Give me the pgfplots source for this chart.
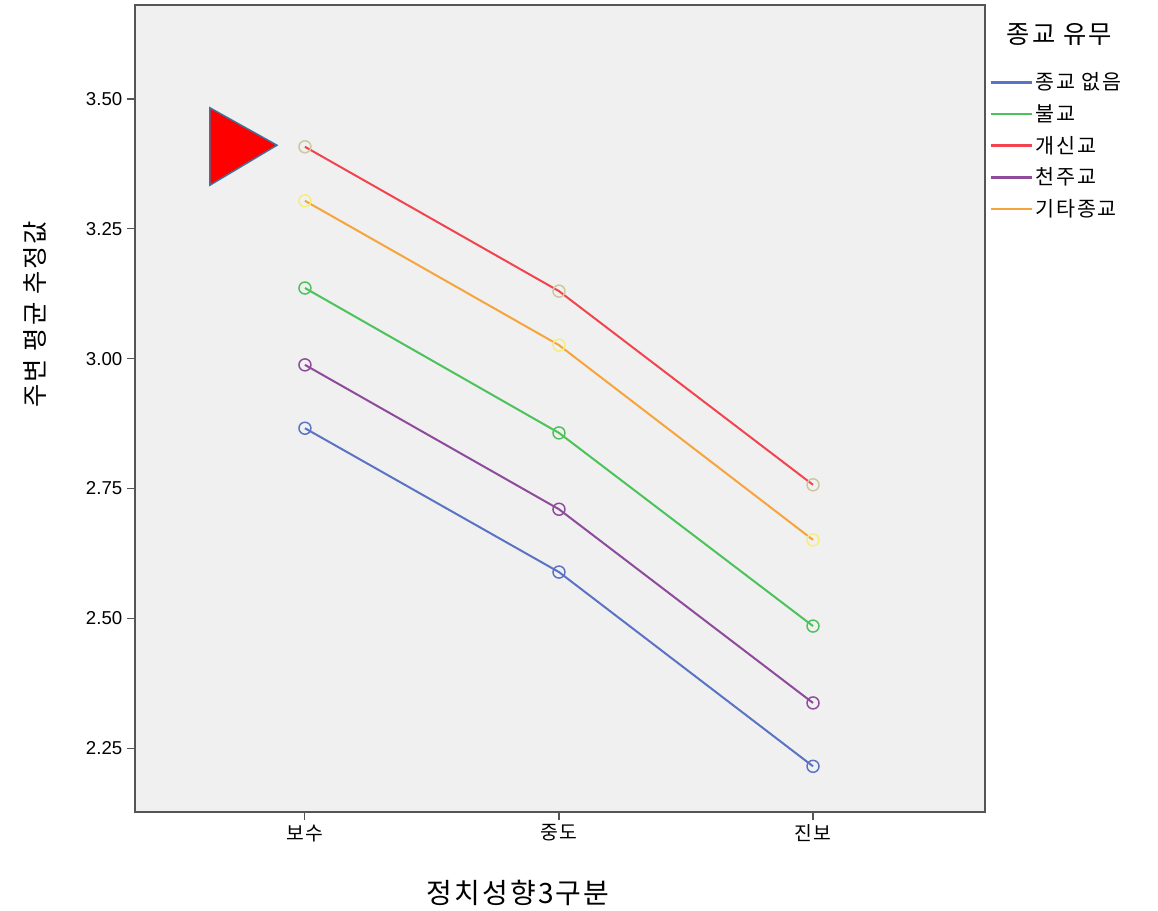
\documentclass[border=0pt]{standalone}
\usepackage{fontspec}
\setmainfont{Liberation Sans}
\newfontfamily\kr{Noto Sans CJK KR}
\newfontfamily\krw{Noto Sans CJK KR}[LetterSpace=8]
\usepackage{pgfplots}
\pgfplotsset{compat=1.18}
\definecolor{cblue}{HTML}{5B73C4}
\definecolor{cgreen}{HTML}{4CC35A}
\definecolor{cred}{HTML}{F2444E}
\definecolor{cpurple}{HTML}{8E4B9B}
\definecolor{corange}{HTML}{F7A43C}
\definecolor{mtan}{HTML}{CDC79E}
\definecolor{myellow}{HTML}{F4EE7C}
\definecolor{bgray}{HTML}{F0F0F0}
\definecolor{frame}{HTML}{555555}
\definecolor{tri}{HTML}{41719C}
\begin{document}
\begin{tikzpicture}[x=1pt,y=1pt]
\path[use as bounding box] (-101.25,-74.25) rectangle (767.25,609);
\begin{axis}[
  at={(0,0)}, anchor=south west,
  scale only axis, width=637.5pt, height=605.25pt,
  xmin=-0.669, xmax=2.677, ymin=2.127, ymax=3.681,
  clip=false,
  axis background/.style={fill=bgray},
  axis line style={draw=frame, line width=1.2pt},
  tick style={draw=frame, line width=0.8pt},
  major tick length=6pt, tick align=outside, tick pos=left,
  xtick={0,1,2}, xticklabels={보수,중도,진보},
  xticklabel style={font=\krw\fontsize{14.5}{16}\selectfont},
  ytick={2.25,2.50,2.75,3.00,3.25,3.50},
  yticklabel style={font=\fontsize{14}{16}\selectfont, /pgf/number format/.cd, fixed, fixed zerofill, precision=2, assume math mode=true},
  xlabel={정치성향3구분},
  xlabel style={font=\krw\fontsize{21}{24}\selectfont, at={(rel axis cs:0.4506,0)}, anchor=center, yshift=-60.75pt},
  ylabel={주변 평균 추정값},
  ylabel style={font=\krw\fontsize{19}{22}\selectfont, at={(rel axis cs:0,0.617)}, anchor=center, yshift=75pt},
  legend style={at={(rel axis cs:1,0.923)}, anchor=north west, draw=none, fill=none,
    font=\krw\fontsize{15.5}{17}\selectfont, row sep=5.5pt, cells={anchor=west}, xshift=0pt},
  legend image code/.code={\draw[#1,mark=none,line width=2pt] (0pt,0pt) -- (31pt,0pt);},
]
\addplot[color=cblue, line width=1.5pt, mark=o, mark size=4.5pt, mark options={draw=cblue, line width=1.1pt}] coordinates {(0,2.866) (1,2.589) (2,2.215)};
\addlegendentry{종교 없음}
\addplot[color=cgreen, line width=1.5pt, mark=o, mark size=4.5pt, mark options={draw=cgreen, line width=1.1pt}] coordinates {(0,3.136) (1,2.857) (2,2.485)};
\addlegendentry{불교}
\addplot[color=cred, line width=1.5pt, mark=o, mark size=4.5pt, mark options={draw=mtan, line width=1.1pt}] coordinates {(0,3.408) (1,3.130) (2,2.757)};
\addlegendentry{개신교}
\addplot[color=cpurple, line width=1.5pt, mark=o, mark size=4.5pt, mark options={draw=cpurple, line width=1.1pt}] coordinates {(0,2.988) (1,2.710) (2,2.337)};
\addlegendentry{천주교}
\addplot[color=corange, line width=1.5pt, mark=o, mark size=4.5pt, mark options={draw=myellow, line width=1.1pt}] coordinates {(0,3.304) (1,3.026) (2,2.651)};
\addlegendentry{기타종교}
\addplot[forget plot, fill=red, draw=tri, line width=1.1pt, mark=none] coordinates {(-0.374,3.483) (-0.374,3.334) (-0.110,3.411)} -- cycle;
\node[anchor=west, font=\krw\fontsize{19}{22}\selectfont] at (rel axis cs:1.02,0.963) {종교 유무};
\end{axis}
\end{tikzpicture}
\end{document}
